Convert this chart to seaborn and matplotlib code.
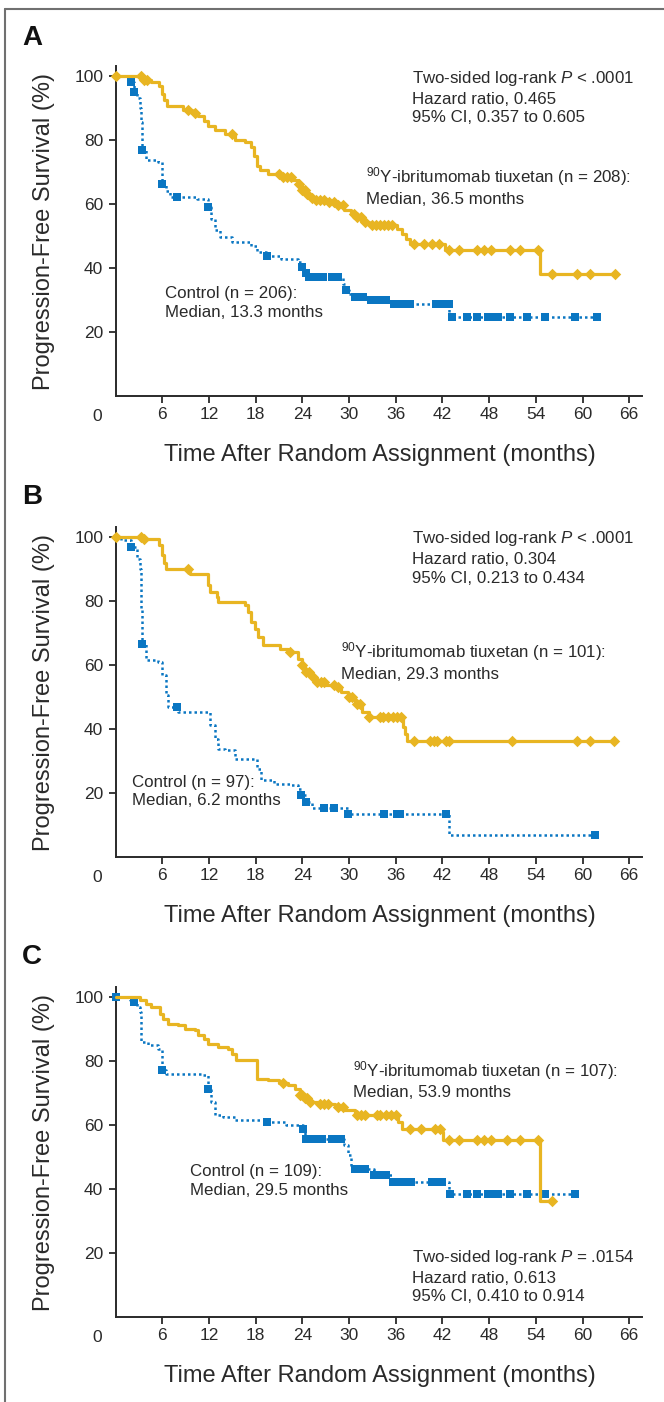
import numpy as np
import pandas as pd
import seaborn as sns
import matplotlib
matplotlib.use('Agg')
from matplotlib import pyplot as plt
from matplotlib import font_manager
from matplotlib.lines import Line2D

# ---- panel A : all patients ----
a_trt_t = [0, 3.6, 4.5, 5.6, 5.9, 6.2, 6.6, 8.6, 9.8, 10.6, 11.3, 11.9, 12.7, 14.0, 15.3, 16.6, 17.4,
           17.8, 18.2, 18.6, 19.6, 21.3, 22.6, 23.4, 23.9, 24.4, 24.9, 25.6, 26.9, 28.2, 29.4, 30.2,
           30.8, 31.6, 32.5, 36.2, 36.8, 37.3, 37.8, 42.3, 54.6, 64.2]
a_trt_s = [100, 98.6, 98.0, 97.0, 94.5, 92.5, 90.6, 89.5, 88.5, 87.5, 86, 84.5, 83, 82, 80, 79.4, 77.8,
           75, 72, 70.5, 69.5, 68.4, 67.4, 66.4, 64.3, 63, 62, 61.1, 60.6, 59.6, 58, 57,
           55.9, 54.4, 53.3, 52.2, 50.5, 49, 47.6, 45.5, 38.2, 38.2]
a_trt_cens = [0, 3.3, 3.7, 4.0, 9.3, 10.2, 15.0, 21.0, 21.5, 22.0, 22.5, 23.6, 24.0, 24.3, 24.6, 25.2,
              25.8, 26.3, 26.8, 27.4, 28.0, 28.6, 29.2, 30.6, 31.0, 31.5, 32.0, 33.0, 33.5, 34.0, 34.5,
              35.0, 35.5, 38.3, 39.6, 40.6, 41.5, 42.8, 44.1, 46.4, 47.3, 48.3, 50.7, 52.0, 54.3,
              56.1, 59.3, 60.9, 64.2]
a_ctl_t = [0, 1.6, 2.0, 2.4, 2.8, 3.1, 3.3, 3.4, 3.9, 5.5, 5.9, 6.0, 6.5, 7.0, 10.5, 11.8, 12.3, 12.7,
           13.4, 15.0, 17.4, 18.1, 19.4, 21.3, 23.4, 23.9, 24.2, 24.6, 29.2, 29.6, 30.0, 30.5, 32.5,
           35.5, 42.9, 61.8]
a_ctl_s = [100, 99, 98.1, 95, 93, 90, 85.6, 77, 73.6, 73.1, 69, 66.1, 64, 62.2, 61.7, 59, 55.4, 51.8,
           49.7, 48.1, 47, 45, 43.7, 42.9, 41.9, 40.3, 38.5, 37.2, 35, 33, 32, 30.9, 29.9,
           28.9, 24.6, 24.6]
a_ctl_cens = [2.0, 2.4, 3.4, 6.0, 7.9, 11.8, 19.4, 23.9, 24.5, 24.8, 25.1, 25.4, 25.7, 26.0, 26.3, 26.6,
              27.8, 28.2, 28.6, 29.6, 30.8, 31.2, 31.8, 32.8, 33.2, 33.6, 34.0, 34.4, 34.8, 35.8, 36.2,
              36.6, 37.0, 37.4, 37.8, 41.2, 41.6, 42.0, 42.4, 42.8, 43.2, 45.1, 46.4, 47.9, 48.3, 48.7,
              49.2, 50.7, 52.9, 55.2, 59.1, 61.8]

# ---- panel B ----
b_trt_t = [0, 3.6, 5.6, 5.9, 6.2, 6.5, 9.6, 11.9, 12.1, 13.0, 13.2, 16.6, 17.0, 17.4, 17.9, 18.3, 18.9,
           21.1, 22.2, 23.4, 23.9, 24.3, 25.2, 25.8, 26.9, 28.2, 29.0, 29.9, 30.7, 31.6, 32.5, 36.9,
           37.2, 37.5, 64.2]
b_trt_s = [100, 99.3, 97.4, 94.3, 92, 90.1, 88.5, 85, 82.8, 81.3, 79.7, 78.6, 76.6, 73.4, 71.4, 68.8, 66.1,
           65.1, 64.1, 62, 59.9, 57.8, 56.3, 54.7, 53.6, 53.1, 51.6, 50, 47.9, 45.3, 43.75, 40.6,
           38.5, 36.3, 36.3]
b_trt_cens = [0, 3.3, 3.7, 9.3, 22.4, 24.0, 24.4, 24.8, 25.3, 25.9, 26.4, 26.8, 28.0, 28.6, 30.0, 30.4,
              31.0, 31.4, 32.6, 34.0, 34.4, 35.0, 35.7, 36.2, 36.7, 38.3, 40.4, 40.9, 41.3, 42.4, 42.8,
              50.9, 59.3, 60.9, 64.1]
b_ctl_t = [0, 0.7, 2.0, 2.7, 3.1, 3.3, 3.4, 3.9, 5.4, 5.9, 6.5, 6.7, 8.0, 12.1, 12.7, 13.2, 14.0, 15.3,
           17.9, 18.1, 18.7, 20.4, 22.4, 23.4, 23.8, 24.5, 25.2, 29.9, 42.8, 61.6]
b_ctl_s = [100, 99, 97, 93.2, 90.1, 77.6, 66.7, 61.5, 60.9, 56.8, 50.5, 46.9, 45.3, 41.1, 37, 33.9, 33.3,
           30.7, 30.5, 27.6, 24, 22.9, 22.4, 21.4, 19.5, 17.2, 15.3, 13.5, 6.8, 6.8]
b_ctl_cens = [2.0, 3.4, 7.9, 23.8, 24.5, 26.8, 28.1, 29.9, 34.5, 36.2, 36.5, 42.5, 61.6]

# ---- panel C ----
c_trt_t = [0, 3.1, 3.9, 4.6, 5.7, 6.1, 6.7, 8.0, 8.9, 10.2, 10.6, 11.4, 11.9, 13.2, 14.4, 14.9, 15.5,
           18.1, 19.6, 21.0, 22.2, 23.0, 23.7, 24.3, 25.0, 26.0, 28.2, 29.4, 30.7, 36.3, 36.8, 41.9,
           42.1, 54.6, 56.1]
c_trt_s = [100, 99, 97.9, 96.9, 94.8, 93.2, 91.7, 91.1, 90.1, 89.6, 88, 86.9, 85.4, 84.4, 83.9, 82.3, 80.2,
           74.5, 74, 73, 72.4, 71.4, 69.3, 68.3, 67.2, 66.7, 65.6, 64.6, 63, 60.9, 58.9, 57.8,
           55.2, 36.1, 36.1]
c_trt_cens = [21.5, 23.7, 24.0, 24.3, 24.6, 25.0, 26.3, 26.8, 27.3, 28.6, 29.2, 31.0, 31.5, 32.0, 33.6,
              34.0, 34.8, 35.4, 36.0, 37.8, 39.3, 41.1, 41.7, 42.8, 44.1, 46.4, 47.3, 48.3, 50.3, 52.0,
              54.3, 56.1]
c_ctl_t = [0, 1.8, 2.4, 2.8, 3.1, 3.3, 4.2, 5.4, 5.9, 6.5, 11.0, 11.9, 12.3, 12.7, 13.8, 15.3, 19.4,
           21.9, 24.1, 24.3, 29.4, 29.9, 30.3, 33.2, 35.5, 42.9, 59.1]
c_ctl_s = [100, 99, 98.4, 97, 95.3, 85.9, 84.9, 83.9, 77.1, 76, 75.5, 71.4, 67.2, 63, 62.5, 61.5, 60.9,
           59.9, 58.9, 55.7, 53.6, 50.5, 46.4, 44.3, 42.2, 38.5, 38.5]
c_ctl_cens = [0, 2.4, 5.9, 11.9, 19.4, 24.1, 24.5, 24.9, 25.3, 25.7, 26.1, 26.5, 27.8, 28.2, 28.6, 29.0,
              30.8, 31.2, 31.6, 32.0, 33.2, 33.6, 34.0, 34.4, 34.8, 35.6, 36.0, 36.4, 36.8, 37.2, 37.6,
              38.0, 40.6, 41.0, 41.4, 41.9, 43.0, 45.1, 46.4, 47.9, 48.3, 48.7, 49.2, 50.7, 52.9, 55.2,
              59.1]

panel_letters = ['A', 'B', 'C']
stats_text = [
    'Two-sided log-rank $P$ < .0001\nHazard ratio, 0.465\n95% CI, 0.357 to 0.605',
    'Two-sided log-rank $P$ < .0001\nHazard ratio, 0.304\n95% CI, 0.213 to 0.434',
    'Two-sided log-rank $P$ = .0154\nHazard ratio, 0.613\n95% CI, 0.410 to 0.914',
]
trt_text = [
    '$^{90}$Y-ibritumomab tiuxetan (n = 208):\nMedian, 36.5 months',
    '$^{90}$Y-ibritumomab tiuxetan (n = 101):\nMedian, 29.3 months',
    '$^{90}$Y-ibritumomab tiuxetan (n = 107):\nMedian, 53.9 months',
]
ctl_text = [
    'Control (n = 206):\nMedian, 13.3 months',
    'Control (n = 97):\nMedian, 6.2 months',
    'Control (n = 109):\nMedian, 29.5 months',
]
x_ticks = [6, 12, 18, 24, 30, 36, 42, 48, 54, 60, 66]
y_ticks = [20, 40, 60, 80, 100]

YELLOW = '#E8B522'
BLUE = '#0A76C2'
INK = '#2a2a2a'

sns.set_theme(style='ticks')


def pick_font(names):
    for n in names:
        try:
            font_manager.findfont(font_manager.FontProperties(family=n), fallback_to_default=False)
            return n
        except Exception:
            pass
    return 'DejaVu Sans'


narrow = pick_font(['Liberation Sans Narrow', 'Liberation Sans'])
plt.rcParams['font.family'] = [narrow, 'DejaVu Sans']
plt.rcParams['mathtext.fontset'] = 'custom'
plt.rcParams['mathtext.rm'] = narrow
plt.rcParams['mathtext.it'] = narrow + ':italic'
plt.rcParams['text.color'] = INK


def surv_at(times, surv, t):
    idx = np.searchsorted(times, t, side='right') - 1
    return np.asarray(surv)[idx]


def km_curve(ax, t, s, cens, color, marker, msize, dotted, z):
    df = pd.DataFrame({'t': t, 's': s})
    sns.lineplot(data=df, x='t', y='s', drawstyle='steps-post', estimator=None, sort=False,
                 color=color, lw=1.8 if dotted else 2.3, ax=ax, zorder=z, clip_on=False)
    if dotted:
        ax.lines[-1].set_dashes((1.0, 1.2))
    cdf = pd.DataFrame({'t': cens, 's': surv_at(t, s, cens)})
    sns.scatterplot(data=cdf, x='t', y='s', marker=marker, s=msize, color=color,
                    linewidth=0, ax=ax, zorder=z + 0.5, clip_on=False)


fig = plt.figure(figsize=(6.64, 14.02), dpi=100)
W, H = 664.0, 1402.0
x0_px = 115.7
px_per_month = 7.78
axis_px = [396, 857, 1317]
top_px = 329.6

panels = [
    (a_trt_t, a_trt_s, a_trt_cens, a_ctl_t, a_ctl_s, a_ctl_cens),
    (b_trt_t, b_trt_s, b_trt_cens, b_ctl_t, b_ctl_s, b_ctl_cens),
    (c_trt_t, c_trt_s, c_trt_cens, c_ctl_t, c_ctl_s, c_ctl_cens),
]
# text anchors (left x in months, vertical centre in % survival)
stats_pos = [(38.1, 93.4), (38.1, 93.6), (38.1, 12.8)]
trt_pos = [(32.2, 65.6), (29.0, 61.3), (30.5, 74.2)]
ctl_pos = [(6.3, 29.1), (2.1, 20.5), (9.6, 42.5)]
note_size = 12.2

for i, (tt, ts, tc, ct, cs, cc) in enumerate(panels):
    ax = fig.add_axes([x0_px / W, 1 - axis_px[i] / H, 67.6 * px_per_month / W, top_px / H])
    km_curve(ax, ct, cs, cc, BLUE, 's', 28, True, 3)
    km_curve(ax, tt, ts, tc, YELLOW, 'D', 34, False, 4)

    ax.set_xlim(0, 67.6)
    ax.set_ylim(0, 103)
    ax.set_xticks(x_ticks)
    ax.set_xticklabels([str(v) for v in x_ticks])
    ax.set_yticks(y_ticks)
    ax.set_yticklabels([str(v) for v in y_ticks])
    sns.despine(ax=ax)
    for side in ['left', 'bottom']:
        ax.spines[side].set_linewidth(1.4)
        ax.spines[side].set_color(INK)
    ax.tick_params(axis='both', direction='out', length=5, width=1.3, color=INK,
                   labelsize=12.5, labelcolor=INK)
    ax.tick_params(axis='x', pad=3)
    ax.tick_params(axis='y', pad=4)
    ax.annotate('0', xy=(0, 0), xycoords='data', xytext=(-13.5, -15), textcoords='offset points',
                ha='center', va='center', fontsize=12.5, color=INK, annotation_clip=False)

    ax.set_xlabel('Time After Random Assignment (months)', fontsize=17, color=INK)
    ax.set_ylabel('Progression-Free Survival (%)', fontsize=17, color=INK)
    ax.xaxis.set_label_coords(0.503, -0.179)
    ax.xaxis.label.set_va('center')
    ax.yaxis.set_label_coords(-0.137, 0.5)
    ax.yaxis.label.set_va('center')

    ax.text(*stats_pos[i], stats_text[i], ha='left', va='center', fontsize=note_size, linespacing=1.3)
    ax.text(*trt_pos[i], trt_text[i], ha='left', va='center', fontsize=note_size, linespacing=1.3)
    ax.text(*ctl_pos[i], ctl_text[i], ha='left', va='center', fontsize=note_size, linespacing=1.3)

    fig.text(32 / W, 1 - (38 + 459.5 * i) / H, panel_letters[i], ha='center', va='center',
             fontsize=20, fontweight='bold', family=['Liberation Sans', 'DejaVu Sans'], color='#111111')

# outer frame (top and left edges visible)
fig.add_artist(Line2D([5 / W, 1], [1 - 9 / H, 1 - 9 / H], transform=fig.transFigure,
                      color='#707070', lw=1.5))
fig.add_artist(Line2D([5 / W, 5 / W], [0, 1 - 9 / H], transform=fig.transFigure,
                      color='#707070', lw=1.5))

fig.savefig('out.png', dpi=100, facecolor='white')
